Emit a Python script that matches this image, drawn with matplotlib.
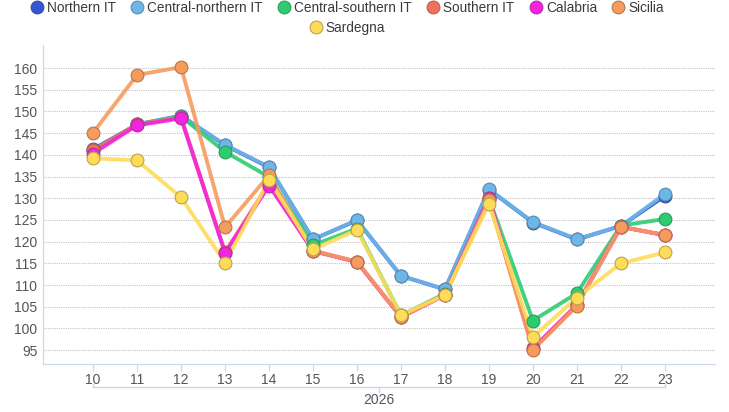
import numpy as np
import matplotlib
matplotlib.use('Agg')
import matplotlib.pyplot as plt
from matplotlib.lines import Line2D
import matplotlib.transforms as mtransforms

plt.rcParams['font.family'] = ['Liberation Sans', 'DejaVu Sans']

weeks = [10, 11, 12, 13, 14, 15, 16, 17, 18, 19, 20, 21, 22, 23]
year_label = '2026'

northern = [141.3, 147.0, 149.0, 142.2, 137.1, 120.5, 124.9, 112.1, 109.0, 132.0, 124.4, 120.5, 123.6, 130.5]
central_northern = [141.0, 147.0, 149.0, 142.3, 137.2, 120.5, 125.0, 112.1, 109.0, 132.1, 124.5, 120.6, 123.6, 131.0]
central_southern = [141.0, 147.0, 148.8, 140.7, 134.9, 119.2, 123.0, 103.0, 108.0, 130.0, 101.8, 108.1, 123.7, 125.2]
southern = [141.0, 147.0, 148.6, 117.5, 133.5, 117.8, 115.3, 102.6, 107.7, 129.8, 95.3, 105.4, 123.4, 121.5]
calabria = [140.3, 146.8, 148.4, 117.4, 132.9, 117.9, 115.3, 102.6, 107.7, 130.1, 95.4, 105.4, 123.4, 121.5]
sicilia = [145.1, 158.4, 160.2, 123.3, 135.3, 117.9, 115.4, 102.6, 107.7, 129.5, 95.0, 105.2, 123.4, 121.5]
sardegna = [139.2, 138.7, 130.2, 115.1, 134.2, 118.2, 122.7, 103.1, 107.7, 128.7, 98.0, 107.1, 115.0, 117.5]

names = ['Northern IT', 'Central-northern IT', 'Central-southern IT', 'Southern IT',
         'Calabria', 'Sicilia', 'Sardegna']
series = [northern, central_northern, central_southern, southern, calabria, sicilia, sardegna]
colors = ['#3355d6', '#6cb6e8', '#2ecc71', '#f2705e', '#f224e0', '#f59b5e', '#fedc5a']
edges = ['#3e4f8c', '#5a8fb4', '#2f9a5a', '#b8604f', '#b02ea4', '#b87646', '#b9a34a']

fig = plt.figure(figsize=(7.29, 4.12), dpi=100)
ax = fig.add_axes([43 / 729, 48 / 412, 672 / 729, 319 / 412])

for vals, c, ec, n in zip(series, colors, edges, names):
    ax.plot(weeks, vals, color=c, lw=2.8, alpha=0.9, solid_capstyle='round', zorder=2)
    ax.plot(weeks, vals, ls='none', marker='o', ms=9.2, mfc=c, mec=ec, mew=0.8, zorder=3)

ax.set_xlim(8.86, 24.14)
ax.set_ylim(91.8, 165.3)
ax.set_yticks(np.arange(95, 161, 5))
ax.set_xticks(weeks)
ax.set_xticklabels([str(w) for w in weeks])
ax.grid(axis='y', color='#c4c4c4', ls=(0, (1, 1)), lw=0.8)
ax.set_axisbelow(True)

for s in ['top', 'right']:
    ax.spines[s].set_visible(False)
ax.spines['left'].set_color('#ccd6eb')
ax.spines['bottom'].set_color('#ccd6eb')
ax.tick_params(axis='y', length=0, labelsize=10, labelcolor='#555555', pad=4)
ax.tick_params(axis='x', length=5, color='#ccd6eb', labelsize=10, labelcolor='#555555', pad=1.5)

# second level category (year) with bracket
trans = mtransforms.blended_transform_factory(ax.transData, ax.transAxes)
yb = -0.072
ax.plot([weeks[0], weeks[0], weeks[-1], weeks[-1]], [yb + 0.008, yb, yb, yb + 0.008],
        transform=trans, color='#ccd6eb', lw=1, clip_on=False)
mid = (weeks[0] + weeks[-1]) / 2
ax.plot([mid, mid], [yb, yb - 0.015], transform=trans, color='#ccd6eb', lw=1, clip_on=False)
ax.text(mid, yb - 0.018, year_label, transform=trans, ha='center', va='top',
        fontsize=10, color='#555555')

handles = [Line2D([], [], ls='none', marker='o', ms=9.2, mfc=c, mec=ec, mew=0.8)
           for c, ec in zip(colors, edges)]
leg1 = fig.legend(handles[:6], names[:6], loc='center', bbox_to_anchor=(347 / 729, 1 - 8 / 412),
                  ncol=6, frameon=False, fontsize=9.8, handletextpad=0.25, columnspacing=1.05,
                  handlelength=1.0, borderaxespad=0)
for t in leg1.get_texts():
    t.set_color('#3a3a3a')
leg2 = fig.legend(handles[6:], names[6:], loc='center', bbox_to_anchor=(347 / 729, 1 - 28 / 412),
                  ncol=1, frameon=False, fontsize=9.8, handletextpad=0.25,
                  handlelength=1.0, borderaxespad=0)
for t in leg2.get_texts():
    t.set_color('#3a3a3a')

fig.savefig('out.png', dpi=100)
